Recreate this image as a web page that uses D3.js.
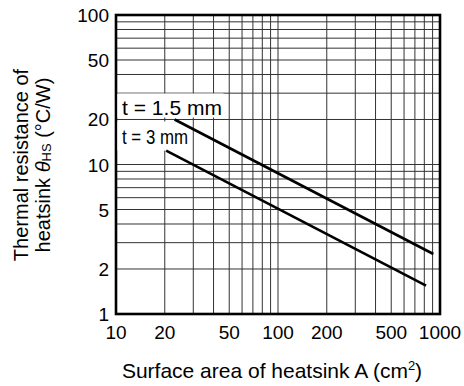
<!DOCTYPE html>
<html>
<head>
<meta charset="utf-8">
<script src="https://cdn.jsdelivr.net/npm/d3@7"></script>
<style>
  body { margin: 0; background: #fff; }
  text { font-family: "Liberation Sans", Arial, sans-serif; fill: #000; }
</style>
</head>
<body>
<div id="chart"></div>
<script>
// surface area (cm2) vs thermal resistance (C/W)
var area15 = [23, 910],
    theta15 = [20, 2.52];
var area3 = [20.4, 820],
    theta3 = [12.4, 1.55];

var xTicks = [10, 20, 50, 100, 200, 500, 1000],
    yTicks = [1, 2, 5, 10, 20, 50, 100];

var width = 464, height = 386,
    margin = {top: 15, right: 24, bottom: 72, left: 116};

var x = d3.scaleLog().domain([10, 1000]).range([margin.left, width - margin.right]);
var y = d3.scaleLog().domain([1, 100]).range([height - margin.bottom, margin.top]);

var svg = d3.select("#chart").append("svg")
    .attr("width", width)
    .attr("height", height);

// grid lines, 1..9 in every decade
var xGrid = [], yGrid = [];
[10, 100].forEach(function(d) {
    for (var i = 1; i <= 9; i++) xGrid.push(d * i);
});
[1, 10].forEach(function(d) {
    for (var i = 1; i <= 9; i++) yGrid.push(d * i);
});

svg.selectAll("line.gx")
    .data(xGrid.slice(1))
    .enter().append("line")
    .attr("class", "gx")
    .attr("x1", function(d) { return x(d); })
    .attr("x2", function(d) { return x(d); })
    .attr("y1", y(1))
    .attr("y2", y(100))
    .style("stroke", "#333")
    .style("stroke-width", 1);

svg.selectAll("line.gy")
    .data(yGrid.slice(1))
    .enter().append("line")
    .attr("class", "gy")
    .attr("x1", x(10))
    .attr("x2", x(1000))
    .attr("y1", function(d) { return y(d); })
    .attr("y2", function(d) { return y(d); })
    .style("stroke", "#333")
    .style("stroke-width", 1);

// frame
svg.append("rect")
    .attr("x", x(10))
    .attr("y", y(100))
    .attr("width", x(1000) - x(10))
    .attr("height", y(1) - y(100))
    .style("fill", "none")
    .style("stroke", "#000")
    .style("stroke-width", 2.6);

// tick labels
svg.selectAll("text.xt")
    .data(xTicks)
    .enter().append("text")
    .attr("class", "xt")
    .attr("x", function(d) { return x(d); })
    .attr("y", y(1) + 25)
    .attr("text-anchor", "middle")
    .style("font-size", "19px")
    .text(function(d) { return d; });

svg.selectAll("text.yt")
    .data(yTicks)
    .enter().append("text")
    .attr("class", "yt")
    .attr("x", x(10) - 7)
    .attr("y", function(d) { return y(d) + 7; })
    .attr("text-anchor", "end")
    .style("font-size", "19px")
    .text(function(d) { return d; });

// curve labels with white boxes over the grid
var labels = [
    {text: "t = 1.5 mm", y: 20, h: 24, w: 106, off: -4, len: 100},
    {text: "t = 3 mm", y: 20, h: 29, w: 73, off: 29, len: 66}
];
labels.forEach(function(l) {
    var top = y(l.y) + (l.off < 0 ? -l.h - 2 : 2);
    svg.append("rect")
        .attr("x", x(10) + 1.5)
        .attr("y", top)
        .attr("width", l.w)
        .attr("height", l.h)
        .style("fill", "#fff");
    svg.append("text")
        .attr("x", x(10) + 6)
        .attr("y", y(l.y) + l.off + (l.off < 0 ? 0 : -4))
        .style("font-size", "21px")
        .attr("textLength", l.len)
        .attr("lengthAdjust", "spacingAndGlyphs")
        .text(l.text);
});

// curves
var line = d3.line()
    .x(function(d) { return x(d[0]); })
    .y(function(d) { return y(d[1]); });

[[area15, theta15], [area3, theta3]].forEach(function(s) {
    svg.append("path")
        .datum(d3.zip(s[0], s[1]))
        .attr("d", line)
        .style("fill", "none")
        .style("stroke", "#000")
        .style("stroke-width", 2.6);
});

// axis titles
var xt = svg.append("text")
    .attr("x", 272)
    .attr("y", 378)
    .attr("text-anchor", "middle")
    .style("font-size", "21px");
xt.append("tspan").text("Surface area of heatsink A (cm");
xt.append("tspan").attr("dy", -8).style("font-size", "13px").text("2");
xt.append("tspan").attr("dy", 8).text(")");

var yt = svg.append("g")
    .attr("transform", "translate(0,165) rotate(-90)");
yt.append("text")
    .attr("x", 0)
    .attr("y", 28)
    .attr("text-anchor", "middle")
    .style("font-size", "20px")
    .text("Thermal resistance of");
var yt2 = yt.append("text")
    .attr("x", 0)
    .attr("y", 50)
    .attr("text-anchor", "middle")
    .style("font-size", "20px");
yt2.append("tspan").text("heatsink ");
yt2.append("tspan").style("font-style", "italic").text("\u03b8");
yt2.append("tspan").style("font-size", "13px").attr("dy", 1).text("HS");
yt2.append("tspan").attr("dy", -1).text(" (\u00b0C/W)");
</script>
</body>
</html>
